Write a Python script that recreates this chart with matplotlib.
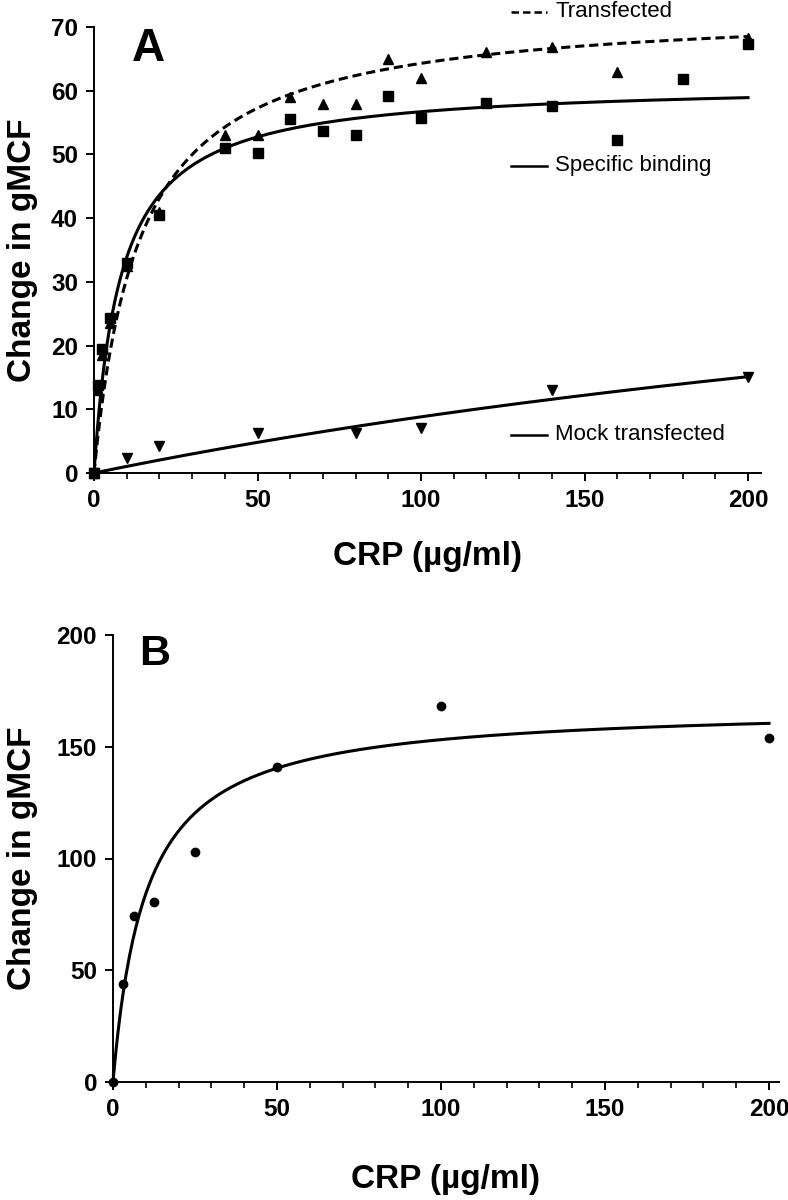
import numpy as np
import matplotlib
matplotlib.use("Agg")
from matplotlib import pyplot as plt

plt.rcParams['font.family'] = ['Liberation Sans', 'DejaVu Sans']

# panel A - CRP binding to transfected / mock transfected cells
crp_a = [0, 1.25, 2.5, 5, 10, 20, 40, 50, 60, 70, 80, 90, 100, 120, 140, 160, 180, 200]
specific = [0, 13.8, 19.5, 24.3, 33.0, 40.5, 51.0, 50.2, 55.5, 53.7, 53.0, 59.2, 55.7,
            58.1, 57.6, 52.3, 61.8, 67.4]
crp_tr = [0, 1.25, 2.5, 5, 10, 20, 40, 50, 60, 70, 80, 90, 100, 120, 140, 160, 200]
transfected = [0, 13.0, 18.5, 23.5, 32.5, 41.0, 53.0, 53.0, 59.0, 57.9, 57.9, 64.9, 62.0,
               66.0, 66.9, 63.0, 68.2]
crp_mock = [0, 10, 20, 50, 80, 100, 140, 200]
mock = [0, 2.3, 4.2, 6.2, 6.2, 7.1, 13.1, 15.0]

# fitted one-site binding curves (Bmax, Kd) as drawn in the figure
fit_specific = (61.3, 8.1)
fit_transfected = (73.3, 14.0)
fit_mock = (52.9, 500.0)

# panel B
crp_b = [0, 3.125, 6.25, 12.5, 25, 50, 100, 200]
gmcf_b = [0, 43.8, 74.3, 80.4, 103.0, 140.8, 168.2, 153.8]
fit_b = (168.5, 10.0)


def binding(x, p):
    bmax, kd = p
    return bmax * x / (kd + x)


W, H = 788, 1200
fig = plt.figure(figsize=(W / 100, H / 100), dpi=100)

label_font = dict(fontsize=24, fontweight='bold')

def style_axes(ax):
    for s in ['top', 'right']:
        ax.spines[s].set_visible(False)
    for s in ['left', 'bottom']:
        ax.spines[s].set_linewidth(1.4)
    ax.tick_params(which='major', direction='out', length=6, width=1.4, pad=5.5)
    ax.tick_params(which='minor', direction='out', length=4, width=1.2)
    for lab in ax.get_xticklabels() + ax.get_yticklabels():
        lab.set_fontsize(17.5)
        lab.set_fontweight('bold')


# ---- panel A ----
axA = fig.add_axes([94 / W, 1 - 473 / H, 204 * 3.27 / W, 446 / H])
xs = np.linspace(0, 200, 400)
axA.plot(xs, binding(xs, fit_transfected), color='black', lw=2.2, ls=(0, (3, 1.6)))
axA.plot(xs, binding(xs, fit_specific), color='black', lw=2.2)
axA.plot(xs, binding(xs, fit_mock), color='black', lw=2.2)
axA.plot(crp_tr, transfected, '^', color='black', ms=7, clip_on=False)
axA.plot(crp_a, specific, 's', color='black', ms=7, clip_on=False)
axA.plot(crp_mock, mock, 'v', color='black', ms=6.5, clip_on=False)

axA.set_xlim(0, 204)
axA.set_ylim(0, 70)
axA.set_xticks([0, 50, 100, 150, 200])
axA.set_xticks(np.arange(0, 201, 10), minor=True)
axA.set_yticks(np.arange(0, 71, 10))
style_axes(axA)
axA.set_xlabel('CRP (µg/ml)', **label_font)
axA.set_ylabel('Change in gMCF', **label_font)
axA.xaxis.set_label_coords(0.5, -0.152)
axA.yaxis.set_label_coords(-0.084, 0.5)
axA.text(16.5, 66.5, 'A', fontsize=33, fontweight='bold', ha='center', va='center')

# line keys
for y, style, name in [(72.4, (0, (3, 1.6)), 'Transfected'),
                       (48.2, '-', 'Specific binding'),
                       (6.0, '-', 'Mock transfected')]:
    axA.plot([127.5, 138.5], [y, y], color='black', lw=1.8, ls=style, clip_on=False)
    axA.text(141, y, name, fontsize=16, ha='left', va='center')

# ---- panel B ----
axB = fig.add_axes([113 / W, 1 - 1082 / H, 203 * 3.28 / W, 447 / H])
axB.plot(xs, binding(xs, fit_b), color='black', lw=2.2)
axB.plot(crp_b, gmcf_b, 'o', color='black', ms=6, clip_on=False)
axB.set_xlim(0, 203)
axB.set_ylim(0, 200)
axB.set_xticks([0, 50, 100, 150, 200])
axB.set_xticks(np.arange(0, 201, 10), minor=True)
axB.set_yticks([0, 50, 100, 150, 200])
style_axes(axB)
axB.set_xlabel('CRP (µg/ml)', **label_font)
axB.set_ylabel('Change in gMCF', **label_font)
axB.xaxis.set_label_coords(0.5, -0.184)
axB.yaxis.set_label_coords(-0.113, 0.5)
axB.text(12.8, 191.5, 'B', fontsize=31, fontweight='bold', ha='center', va='center')

fig.savefig('out.png', dpi=100)
